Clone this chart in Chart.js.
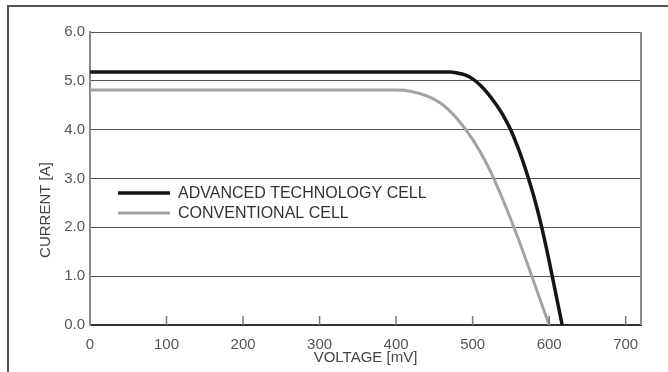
<!DOCTYPE html>
<html>
<head>
<meta charset="utf-8">
<title>Current vs voltage</title>
<script src="https://cdn.jsdelivr.net/npm/chart.js@4.4.0/dist/chart.umd.min.js"></script>
<style>
    html, body { margin: 0; padding: 0; background: #fff; }
    #wrap { position: relative; width: 668px; height: 372px; overflow: hidden; }
    #frame { position: absolute; left: 7px; top: 5px; width: 700px; height: 400px; border: 2px solid #555; }
    #chart { position: absolute; left: 0; top: 0; }
</style>
</head>
<body>
<div id="wrap">
    <div id="frame"></div>
    <canvas id="chart" width="668" height="372"></canvas>
</div>
<script>
// values (voltage in mV, current in A)
const advVoltage = [0, 100, 200, 300, 400, 450, 470, 480, 490, 500, 510, 520, 530, 540, 550, 560, 570, 580, 590, 600, 610, 617];
const advCurrent = [5.18, 5.18, 5.18, 5.18, 5.18, 5.18, 5.18, 5.16, 5.12, 5.04, 4.91, 4.74, 4.53, 4.29, 3.99, 3.60, 3.15, 2.63, 2.02, 1.31, 0.54, 0.00];
const convVoltage = [0, 100, 200, 300, 400, 420, 440, 460, 480, 500, 520, 540, 560, 580, 600];
const convCurrent = [4.81, 4.81, 4.81, 4.81, 4.81, 4.78, 4.69, 4.52, 4.22, 3.80, 3.25, 2.55, 1.75, 0.88, 0.00];
const xTicks = [0, 100, 200, 300, 400, 500, 600, 700];
const seriesLabels = ['ADVANCED TECHNOLOGY CELL', 'CONVENTIONAL CELL'];

const FONT = '"Liberation Sans", Arial, sans-serif';
const LABEL_COLOR = '#555';

function toPoints(xs, ys) {
    return xs.map((x, i) => ({ x: x, y: ys[i] }));
}

// frame of the plot, small inner ticks, legend and rotated y title
const decorations = {
    id: 'decorations',
    afterDraw(chart) {
        const ctx = chart.ctx;
        const area = chart.chartArea;
        const xScale = chart.scales.x;
        ctx.save();

        // right border
        ctx.strokeStyle = '#888';
        ctx.lineWidth = 2;
        ctx.beginPath();
        ctx.moveTo(area.right, area.top);
        ctx.lineTo(area.right, area.bottom);
        ctx.stroke();

        // tick marks pointing into the plot
        ctx.strokeStyle = '#777';
        ctx.lineWidth = 1.5;
        xTicks.slice(1).forEach(v => {
            const px = xScale.getPixelForValue(v);
            ctx.beginPath();
            ctx.moveTo(px, area.bottom);
            ctx.lineTo(px, area.bottom - 9);
            ctx.stroke();
        });

        // legend
        const lx = area.left + 28;
        const rows = [
            { y: area.top + 161, color: '#151515', width: 3.5 },
            { y: area.top + 181, color: '#a3a3a3', width: 3 }
        ];
        ctx.font = '16px ' + FONT;
        ctx.textBaseline = 'middle';
        ctx.textAlign = 'left';
        rows.forEach((r, i) => {
            ctx.strokeStyle = r.color;
            ctx.lineWidth = r.width;
            ctx.beginPath();
            ctx.moveTo(lx, r.y);
            ctx.lineTo(lx + 52, r.y);
            ctx.stroke();
            ctx.fillStyle = '#333';
            ctx.fillText(seriesLabels[i], lx + 60, r.y + 1);
        });

        // y axis title
        ctx.translate(46, 210);
        ctx.rotate(-Math.PI / 2);
        ctx.textAlign = 'center';
        ctx.font = '15px ' + FONT;
        ctx.fillStyle = '#444';
        ctx.fillText('CURRENT [A]', 0, 0);
        ctx.restore();
    }
};

const chart = new Chart(document.getElementById('chart').getContext('2d'), {
    type: 'scatter',
    data: {
        datasets: [{
            label: seriesLabels[0],
            data: toPoints(advVoltage, advCurrent),
            showLine: true,
            borderColor: '#151515',
            borderWidth: 3.5,
            pointRadius: 0,
            cubicInterpolationMode: 'monotone'
        }, {
            label: seriesLabels[1],
            data: toPoints(convVoltage, convCurrent),
            showLine: true,
            borderColor: '#a3a3a3',
            borderWidth: 3,
            pointRadius: 0,
            cubicInterpolationMode: 'monotone'
        }]
    },
    options: {
        responsive: false,
        animation: false,
        layout: { padding: { left: 10, top: 32, right: 27, bottom: 0 } },
        plugins: {
            legend: { display: false },
            tooltip: { enabled: false }
        },
        scales: {
            x: {
                type: 'linear',
                min: 0,
                max: 720,
                afterBuildTicks: scale => { scale.ticks = xTicks.map(v => ({ value: v })); },
                afterFit: scale => { scale.height = 47; },
                grid: { display: false },
                border: { display: true, color: '#333', width: 2 },
                ticks: { padding: 3, color: LABEL_COLOR, font: { family: FONT, size: 15 } },
                title: {
                    display: true,
                    text: 'VOLTAGE [mV]',
                    color: '#444',
                    font: { family: FONT, size: 15 },
                    padding: { top: 0, bottom: 5 }
                }
            },
            y: {
                min: 0,
                max: 6,
                afterFit: scale => { scale.width = 80; },
                grid: { color: '#555', lineWidth: 1, drawTicks: false },
                border: { color: '#888', width: 2 },
                ticks: {
                    stepSize: 1,
                    padding: 5,
                    color: LABEL_COLOR,
                    font: { family: FONT, size: 15 },
                    callback: v => v.toFixed(1)
                }
            }
        }
    },
    plugins: [decorations]
});
</script>
</body>
</html>
